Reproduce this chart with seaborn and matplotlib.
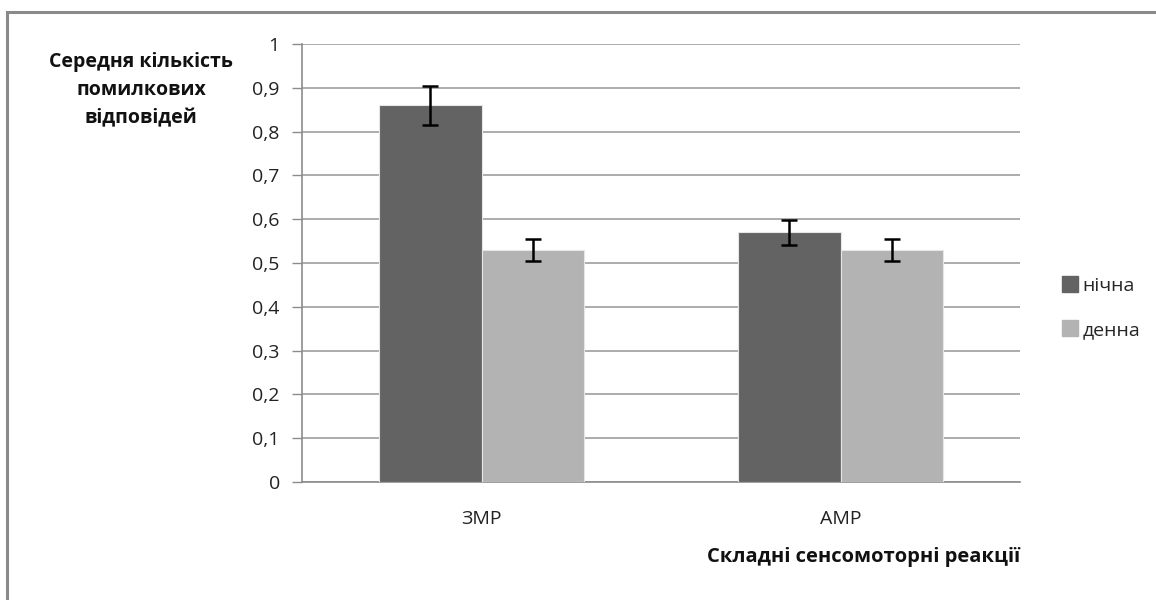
import numpy as np
import pandas as pd
import matplotlib
matplotlib.use("Agg")
import matplotlib.pyplot as plt
import seaborn as sns
from matplotlib.patches import Rectangle
from matplotlib.lines import Line2D

categories = ["ЗМР", "АМР"]
shifts = ["нічна", "денна"]
night_values = [0.86, 0.57]
day_values = [0.53, 0.53]
night_err = [0.044, 0.028]
day_err = [0.025, 0.025]
yticks = [0, 0.1, 0.2, 0.3, 0.4, 0.5, 0.6, 0.7, 0.8, 0.9, 1]
ytick_labels = ["0", "0,1", "0,2", "0,3", "0,4", "0,5", "0,6", "0,7", "0,8", "0,9", "1"]

colors = {"нічна": "#636363", "денна": "#b3b3b3"}

df = pd.DataFrame({
    "category": categories * 2,
    "shift": [shifts[0]] * 2 + [shifts[1]] * 2,
    "value": night_values + day_values,
    "err": night_err + day_err,
})

sns.set_style("white")
plt.rcParams['font.family'] = ['Open Sans', 'DejaVu Sans']

fig = plt.figure(figsize=(11.56, 6), dpi=100)
ax = fig.add_axes([302 / 1156, 1 - 482 / 600, 718 / 1156, 438 / 600])

sns.barplot(data=df, x="category", y="value", hue="shift", order=categories,
            hue_order=shifts, palette=colors, width=0.572, errorbar=None,
            edgecolor="#e6e6e6", linewidth=0.8, ax=ax, legend=False, zorder=3)

# error bars at the centres of the drawn bars
bars = [p for p in ax.patches if isinstance(p, Rectangle)]
for i, s in enumerate(shifts):
    sub = df[df["shift"] == s].set_index("category").loc[categories]
    group = bars[i * len(categories):(i + 1) * len(categories)]
    xs = [b.get_x() + b.get_width() / 2 for b in group]
    ax.errorbar(xs, sub["value"], yerr=sub["err"], fmt="none", ecolor="black",
                elinewidth=1.8, capsize=6, capthick=1.8, zorder=4)

ax.set_ylim(0, 1)
ax.set_xlim(-0.5, 1.5)
ax.set_yticks(yticks)
ax.set_yticklabels(ytick_labels, fontsize=14, color="#222222")
ax.set_xticks(range(len(categories)))
ax.set_xticklabels(categories, fontsize=14, color="#222222")
ax.set_xticks([-0.5, 0.5, 1.5], minor=True)
ax.tick_params(axis="x", which="major", length=0, pad=20)
ax.tick_params(axis="x", which="minor", length=8, width=1, color="#8c8c8c", direction="out")
ax.tick_params(axis="y", length=7, width=1, color="#8c8c8c", direction="out", pad=9, left=True)
ax.yaxis.grid(True, color="#a6a6a6", linewidth=1.3, zorder=0)
ax.set_axisbelow(True)
for side in ["top", "right"]:
    ax.spines[side].set_visible(False)
for side in ["left", "bottom"]:
    ax.spines[side].set_color("#8c8c8c")
    ax.spines[side].set_linewidth(1.2)
ax.set_xlabel("")
ax.set_ylabel("")

fig.text(141 / 1156, 1 - 90 / 600, "Середня кількість\nпомилкових\nвідповідей",
         ha="center", va="center", fontsize=14, fontweight="bold",
         linespacing=1.55, color="#111111")
fig.text(1020 / 1156, 1 - 557 / 600, "Складні сенсомоторні реакції",
         ha="right", va="center", fontsize=14.5, fontweight="bold", color="#111111")

handles = [Line2D([0], [0], marker="s", linestyle="none", markersize=11,
                  markerfacecolor=colors[s], markeredgecolor=colors[s]) for s in shifts]
fig.legend(handles, shifts, loc="center left", bbox_to_anchor=(1052 / 1156, 1 - 308 / 600),
           frameon=False, fontsize=14, handletextpad=0.15, labelspacing=1.35,
           borderaxespad=0, handlelength=1.0)

fig.patches.append(Rectangle((7 / 1156, -0.05), 1.1, 1 - 12 / 600 + 0.05,
                             transform=fig.transFigure, fill=False,
                             edgecolor="#8a8a8a", linewidth=2.2))

fig.savefig("out.png", dpi=100, facecolor="white")
